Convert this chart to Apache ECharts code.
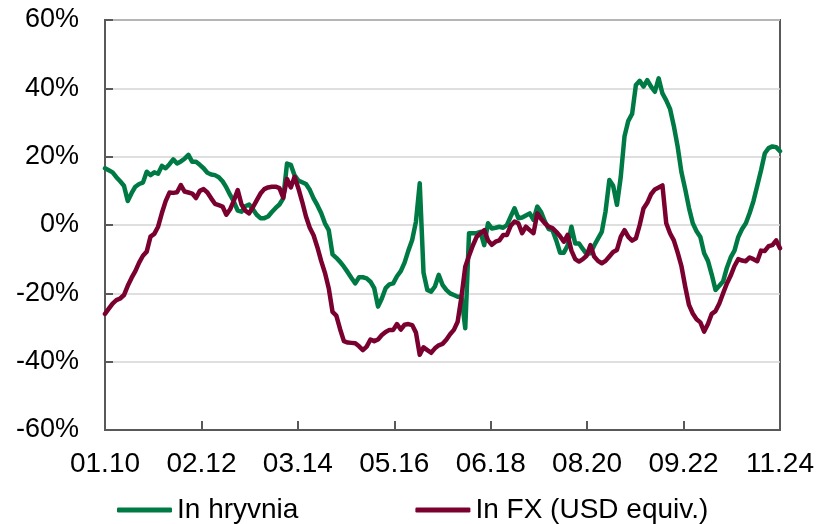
<!DOCTYPE html>
<html>
<head>
<meta charset="utf-8">
<script src="https://cdn.jsdelivr.net/npm/echarts@6/dist/echarts.min.js"></script>
<style>
html,body{margin:0;padding:0;background:#fff;}
#chart{width:818px;height:524px;}
</style>
</head>
<body>
<div id="chart"></div>
<script>
// Monthly observations, 01.2010 .. 11.2024 (179 months)
const months = [];
for (let y = 2010; y <= 2024; y++) {
  for (let m = 1; m <= 12; m++) {
    if (y === 2024 && m > 11) break;
    months.push(String(m).padStart(2, '0') + '.' + String(y).slice(2));
  }
}
const tickLabels = ['01.10', '02.12', '03.14', '05.16', '06.18', '08.20', '09.22', '11.24'];

const hryvnia = [
  16.6, 16.0, 15.4, 14.0, 12.8, 11.5, 7.0, 9.3, 11.2, 12.0,
  12.4, 15.6, 14.6, 15.4, 15.0, 17.3, 16.6, 17.8, 19.2, 18.0,
  18.6, 19.4, 20.5, 18.5, 18.5, 17.6, 16.6, 15.3, 14.8, 14.6,
  14.0, 12.8, 11.0, 8.8, 6.8, 4.2, 3.9, 5.5, 6.0, 4.6,
  3.0, 2.0, 2.0, 2.5, 3.8, 5.0, 6.0, 7.8, 18.0, 17.6,
  14.5, 13.0, 12.5, 12.0, 10.3, 7.8, 5.8, 3.5, 0.5, -1.5,
  -8.6, -9.6, -10.8, -12.2, -13.8, -15.5, -17.1, -15.3, -15.3, -15.6,
  -16.6, -18.5, -23.9, -21.5, -18.5, -17.4, -17.1, -15.0, -13.5, -11.0,
  -7.5, -4.4, 1.0, 12.2, -14.0, -19.0, -19.5, -18.0, -14.6, -17.5,
  -19.0, -20.0, -20.5, -21.0, -21.0, -30.2, -2.4, -2.4, -2.4, -2.0,
  -5.9, 0.5, -1.0, -0.8, -0.5, -0.8, 0.0, 2.5, 4.9, 2.0,
  2.2, 2.8, 3.4, 1.5, 5.4, 3.8, 1.0, -1.2, -1.5, -4.5,
  -8.1, -8.1, -6.0, -0.5, -5.4, -5.4, -7.0, -8.5, -8.3, -6.0,
  -4.0, -2.0, 4.0, 13.2, 11.5, 5.9, 14.0, 26.0, 30.5, 32.5,
  41.0, 42.2, 40.5, 42.4, 40.5, 39.0, 42.9, 38.5, 36.5, 34.0,
  29.0, 23.0, 15.5, 10.5, 5.0, 0.5, -1.8, -3.5, -8.3, -10.5,
  -14.5, -19.0, -17.8, -16.5, -12.5, -9.5, -7.5, -3.5, -1.2, 0.5,
  3.5, 7.0, 11.5, 16.0, 21.0, 22.5, 23.0, 22.8, 21.6
];

const fxUsd = [
  -26.0, -24.5, -23.0, -22.0, -21.5, -20.5, -17.8, -15.5, -13.5, -11.0,
  -9.0, -7.8, -3.4, -2.6, -0.5, 3.5, 7.0, 9.5, 9.4, 9.6,
  11.7, 9.8, 9.5, 9.2, 7.9, 10.0, 10.5, 9.5, 7.8, 6.2,
  5.8, 5.4, 3.0, 4.6, 7.2, 10.2, 6.0, 4.2, 3.4, 5.2,
  7.2, 9.2, 10.5, 11.0, 11.2, 11.2, 10.8, 8.0, 13.5, 11.0,
  14.1, 10.7, 6.8, 2.5, -0.8, -3.0, -6.5, -10.5, -14.0, -18.5,
  -25.4, -26.5, -30.5, -34.0, -34.4, -34.5, -34.6, -35.5, -36.6, -35.6,
  -33.5, -34.0, -33.5, -32.2, -31.3, -30.7, -30.7, -29.0, -30.6, -29.2,
  -29.0, -29.3, -31.5, -38.0, -35.8, -36.6, -37.4, -36.1, -35.2, -34.8,
  -33.6, -32.0, -30.7, -28.3, -21.0, -12.2, -9.0, -6.0, -3.5, -2.4,
  -1.5, -4.5, -5.8, -4.9, -4.5, -2.9, -2.9, -0.2, 1.0, 0.5,
  -2.4, -0.5, -1.5, -2.4, 3.4, 1.8, 0.5, -0.5, -0.9, -2.0,
  -3.3, -4.9, -2.9, -7.5, -10.0, -10.7, -10.0, -9.0, -5.9, -9.2,
  -10.5, -11.2, -10.5, -9.2, -7.9, -7.3, -3.5, -1.5, -3.5, -4.6,
  -3.9, 0.0, 4.8, 6.5, 9.0, 10.4, 11.0, 11.6, 0.5, -2.4,
  -4.5, -8.0, -12.0, -18.0, -23.4, -25.9, -27.6, -28.5, -31.2, -29.0,
  -26.0, -25.2, -23.0, -20.0, -17.1, -14.8, -12.0, -10.0, -10.4, -10.6,
  -9.5, -10.0, -10.6, -7.5, -7.6, -6.2, -5.9, -4.5, -6.8
];

const seriesNames = ['In hryvnia', 'In FX (USD equiv.)'];
const colors = ['#007A45', '#7A0030'];

const FONT = "'Liberation Sans', Arial, sans-serif";
const chart = echarts.init(document.getElementById('chart'), null, {renderer: 'canvas'});

chart.setOption({
  animation: false,
  backgroundColor: '#ffffff',
  grid: {
    left: 105, right: 38, top: 20, bottom: 94,
    show: true, borderColor: '#595959', borderWidth: 2, backgroundColor: 'transparent'
  },
  legend: {
    data: seriesNames,
    left: 112,
    top: 491,
    itemWidth: 55,
    itemHeight: 5,
    itemGap: 117,
    icon: 'roundRect',
    textStyle: {fontFamily: FONT, fontSize: 28, color: '#000'}
  },
  xAxis: [
    {
      type: 'category',
      data: months,
      boundaryGap: false,
      position: 'bottom',
      axisLine: {show: false},
      axisTick: {show: false},
      axisLabel: {show: false},
      splitLine: {show: false}
    },
    {
      type: 'value',
      min: 0, max: 7, interval: 1,
      position: 'bottom',
      axisLine: {show: true, lineStyle: {color: '#595959', width: 2}},
      axisTick: {show: true, inside: true, length: 9, lineStyle: {color: '#595959', width: 2}},
      axisLabel: {
        fontFamily: FONT, fontSize: 28, color: '#000', margin: 20,
        formatter: function (v) { return tickLabels[Math.round(v)] || ''; }
      },
      splitLine: {show: false}
    }
  ],
  yAxis: {
    type: 'value',
    min: -60, max: 60, interval: 20,
    axisLine: {show: true, lineStyle: {color: '#595959', width: 2}},
    axisTick: {show: true, inside: true, length: 8, lineStyle: {color: '#595959', width: 2}},
    axisLabel: {fontFamily: FONT, fontSize: 27, color: '#000', margin: 26, formatter: '{value}%'},
    splitLine: {show: true, lineStyle: {color: '#d4d4d4', width: 1.5}}
  },
  series: [
    {
      name: seriesNames[0], type: 'line', xAxisIndex: 0, data: hryvnia,
      showSymbol: false, symbol: 'none', color: colors[0],
      lineStyle: {width: 4.5, color: colors[0], cap: 'round', join: 'round'}, z: 3
    },
    {
      name: seriesNames[1], type: 'line', xAxisIndex: 0, data: fxUsd,
      showSymbol: false, symbol: 'none', color: colors[1],
      lineStyle: {width: 4.5, color: colors[1], cap: 'round', join: 'round'}, z: 4
    }
  ]
});
</script>
</body>
</html>
